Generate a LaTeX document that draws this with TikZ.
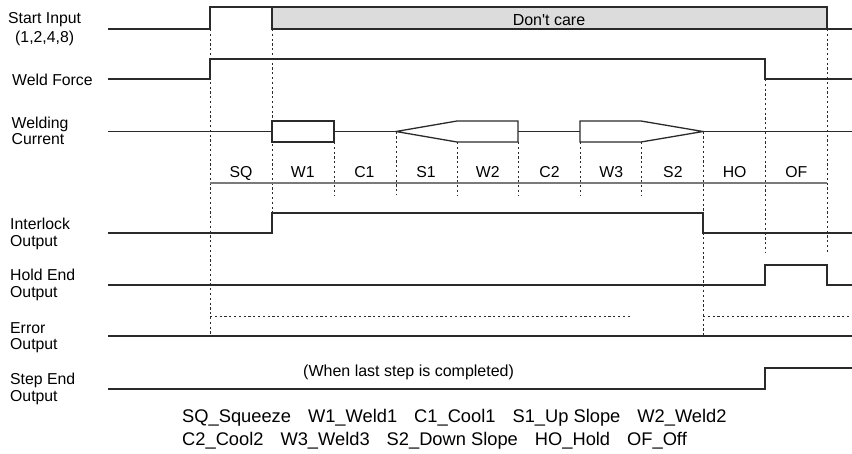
\documentclass[tikz,border=0pt]{standalone}
\usepackage{fontspec}
\setmainfont{Liberation Sans}
\usetikzlibrary{positioning}
\definecolor{cSig}{HTML}{2a2a2a}
\definecolor{cRule}{HTML}{7a7a7a}
\definecolor{cDc}{HTML}{dcdcdc}
\tikzset{
  wave/.style={draw=cSig,line width=1.3pt,line join=miter},
  guide/.style={draw=cSig,line width=0.9pt,dash pattern=on 2.2pt off 2.6pt},
  sig/.style={font=\fontsize{15.8}{16.5}\selectfont,align=left,inner sep=0pt,anchor=north west},
  phase/.style={font=\fontsize{15.8}{16.5}\selectfont,inner sep=0pt,anchor=base},
  note/.style={font=\fontsize{16}{18}\selectfont,inner sep=0pt},
  legend/.style={font=\fontsize{18.3}{23}\selectfont,inner sep=0pt,anchor=base west},
}
\newcommand{\gap}{\hspace{17pt}}

\begin{document}
\begin{tikzpicture}[x=1pt,y=-1pt]
  \useasboundingbox (0,0) rectangle (852,453);
  % dotted guides
  \draw[guide] (210,29) -- (210,336);
  \draw[guide] (272,29) -- (272,213);
  \foreach \x/\y in {334/142,396/131.5,457/142,518/142,580/142,641/142}
    \draw[guide] (\x,\y) -- (\x,195);
  \draw[guide] (703,131.5) -- (703,336);
  \draw[guide] (765,79) -- (765,252);
  \draw[guide] (827,29) -- (827,252);
  \draw[guide] (210,316) -- (632,316);
  \draw[guide] (703,316) -- (852,316);

  % signal names
  \node[sig,align=center] (start) at (8,12.7) {Start Input\\[2.5pt](1,2,4,8)};
  \node[sig] (force) at (12,74) {Weld Force};
  \node[sig] (current) at (11.5,116.7) {Welding\\Current};
  \node[sig] (lock) at (10,218) {Interlock\\Output};
  \node[sig] (hold) at (10,269) {Hold End\\Output};
  \node[sig] (error) at (10,322.3) {Error\\Output};
  \node[sig] (stepend) at (10,373) {Step End\\Output};

  % start input
  \draw[wave] (108,29) -- (210,29) -- (210,7) -- (272,7);
  \filldraw[wave,fill=cDc] (272,29) rectangle (827,7);
  \draw[wave] (827,29) -- (852,29);
  \node[note,anchor=base] (dc) at (549,25.7) {Don\textquotesingle t care};

  % weld force
  \draw[wave] (108,79) -- (210,79) -- (210,59) -- (765,59) -- (765,79) -- (852,79);

  % welding current
  \draw[wave] (108,131.5) -- (272,131.5);
  \draw[wave] (272,121) -- (334,121) -- (334,142) -- (272,142) -- cycle;
  \draw[wave] (334,131.5) -- (396,131.5);
  \draw[wave] (396,131.5) -- (457,121) -- (518,121) -- (518,142) -- (457,142) -- cycle;
  \draw[wave] (518,131.5) -- (580,131.5);
  \draw[wave] (580,121) -- (641,121) -- (703,131.5) -- (641,142) -- (580,142) -- cycle;
  \draw[wave] (703,131.5) -- (852,131.5);

  % phases
  \foreach \n [count=\i from 0] in {SQ,W1,C1,S1,W2,C2,W3,S2,HO,OF}
    \node[phase] (ph\i) at ({241+61.7*\i},177.7) {\n};
  \draw[draw=cRule,line width=1.3pt] (210,183) -- (827,183);

  % outputs
  \draw[wave] (108,233) -- (272,233) -- (272,213) -- (703,213) -- (703,233) -- (852,233);
  \draw[wave] (108,285) -- (765,285) -- (765,265) -- (827,265) -- (827,285) -- (852,285);
  \draw[wave] (108,336) -- (852,336);
  \draw[wave] (108,389) -- (765,389) -- (765,368) -- (852,368);
  \node[note,anchor=base west] (last) at (303,376.7) {(When last step is completed)};

  % legend
  \node[legend] (key1) at (182,422) {SQ\_Squeeze\gap W1\_Weld1\gap C1\_Cool1\gap S1\_Up Slope\gap W2\_Weld2};
  \node[legend] (key2) at (182,445) {C2\_Cool2\gap W3\_Weld3\gap S2\_Down Slope\gap HO\_Hold\gap OF\_Off};
\end{tikzpicture}
\end{document}
